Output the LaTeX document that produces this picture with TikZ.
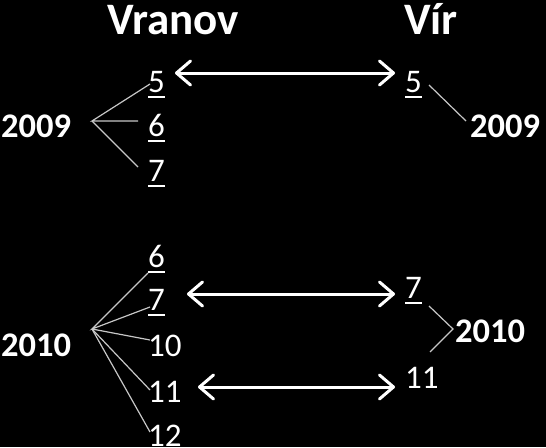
\documentclass[tikz,border=0pt]{standalone}
\usepackage{fontspec}
\setmainfont{Carlito}
\usetikzlibrary{arrows.meta}
\newcommand\unum[1]{\setbox0\hbox{#1}\rlap{\rule[-6pt]{\wd0}{2pt}}\box0}
\tikzset{
  num/.style={text=white, inner sep=0pt, anchor=base west, font=\fontsize{33}{33}\selectfont},
  year/.style={text=white, inner sep=0pt, anchor=base west, font=\fontsize{34.5}{34.5}\selectfont\bfseries},
  title/.style={text=white, inner sep=0pt, anchor=base west, font=\fontsize{45}{45}\selectfont\bfseries},
  thin/.style={draw=white!78!black, line width=1.2pt},
  barb/.tip={Straight Barb[length=14pt,width=24pt,line width=3pt,round]},
  link/.style={draw=white, line width=3pt, barb-barb}
}
\begin{document}
\begin{tikzpicture}[x=1pt,y=-1pt]
\fill[black] (0,0) rectangle (546,447);
\useasboundingbox (0,0) rectangle (546,447);
% titles
\node[title] (tV) at (107,34) {Vranov};
\node[title] (tW) at (404,34) {Vír};
% 2009 left
\node[year] (y09L) at (1,137) {2009};
\node[num] (a5) at (148,92) {\unum{5}};
\node[num] (a6) at (148,136) {\unum{6}};
\node[num] (a7) at (148,181) {\unum{7}};
% 2009 right
\node[num] (b5) at (405,92) {\unum{5}};
\node[year] (y09R) at (470,137) {2009};
% 2010 left
\node[year] (y10L) at (1,356) {2010};
\node[num] (c6) at (148,267) {\unum{6}};
\node[num] (c7) at (148,310) {\unum{7}};
\node[num] (c10) at (148,356) {10};
\node[num] (c11) at (148,402) {11};
\node[num] (c12) at (148,446) {12};
% 2010 right
\node[num] (d7) at (405,298) {\unum{7}};
\node[year] (y10R) at (455,342) {2010};
\node[num] (d11) at (405,388) {11};
% coordinates
\coordinate (v09L) at (92,121);
\coordinate (e5) at (150,84);
\coordinate (e6) at (138,121);
\coordinate (e7) at (138,167);
\coordinate (r5s) at (429,85);
\coordinate (r5e) at (466,121);
\coordinate (v10L) at (92,329);
\coordinate (f6) at (148,273);
\coordinate (f7) at (150,307);
\coordinate (f10) at (150,340);
\coordinate (f11) at (150,390);
\coordinate (f12) at (150,432);
\coordinate (g7) at (429,306);
\coordinate (g0) at (453,329);
\coordinate (g11) at (430,352);
\coordinate (A1) at (175,73);
\coordinate (B1) at (395,73);
\coordinate (A2) at (187,294);
\coordinate (B2) at (395,294);
\coordinate (A3) at (198,387);
\coordinate (B3) at (395,387);
% thin lines
\draw[thin] (e5) -- (v09L) -- (e6);
\draw[thin] (v09L) -- (e7);
\draw[thin] (r5s) -- (r5e);
\draw[thin] (f6) -- (v10L) -- (f7);
\draw[thin] (v10L) -- (f10);
\draw[thin] (v10L) -- (f11);
\draw[thin] (v10L) -- (f12);
\draw[thin] (g7) -- (g0) -- (g11);
% arrows
\draw[link] (A1) -- (B1);
\draw[link] (A2) -- (B2);
\draw[link] (A3) -- (B3);
\end{tikzpicture}
\end{document}
